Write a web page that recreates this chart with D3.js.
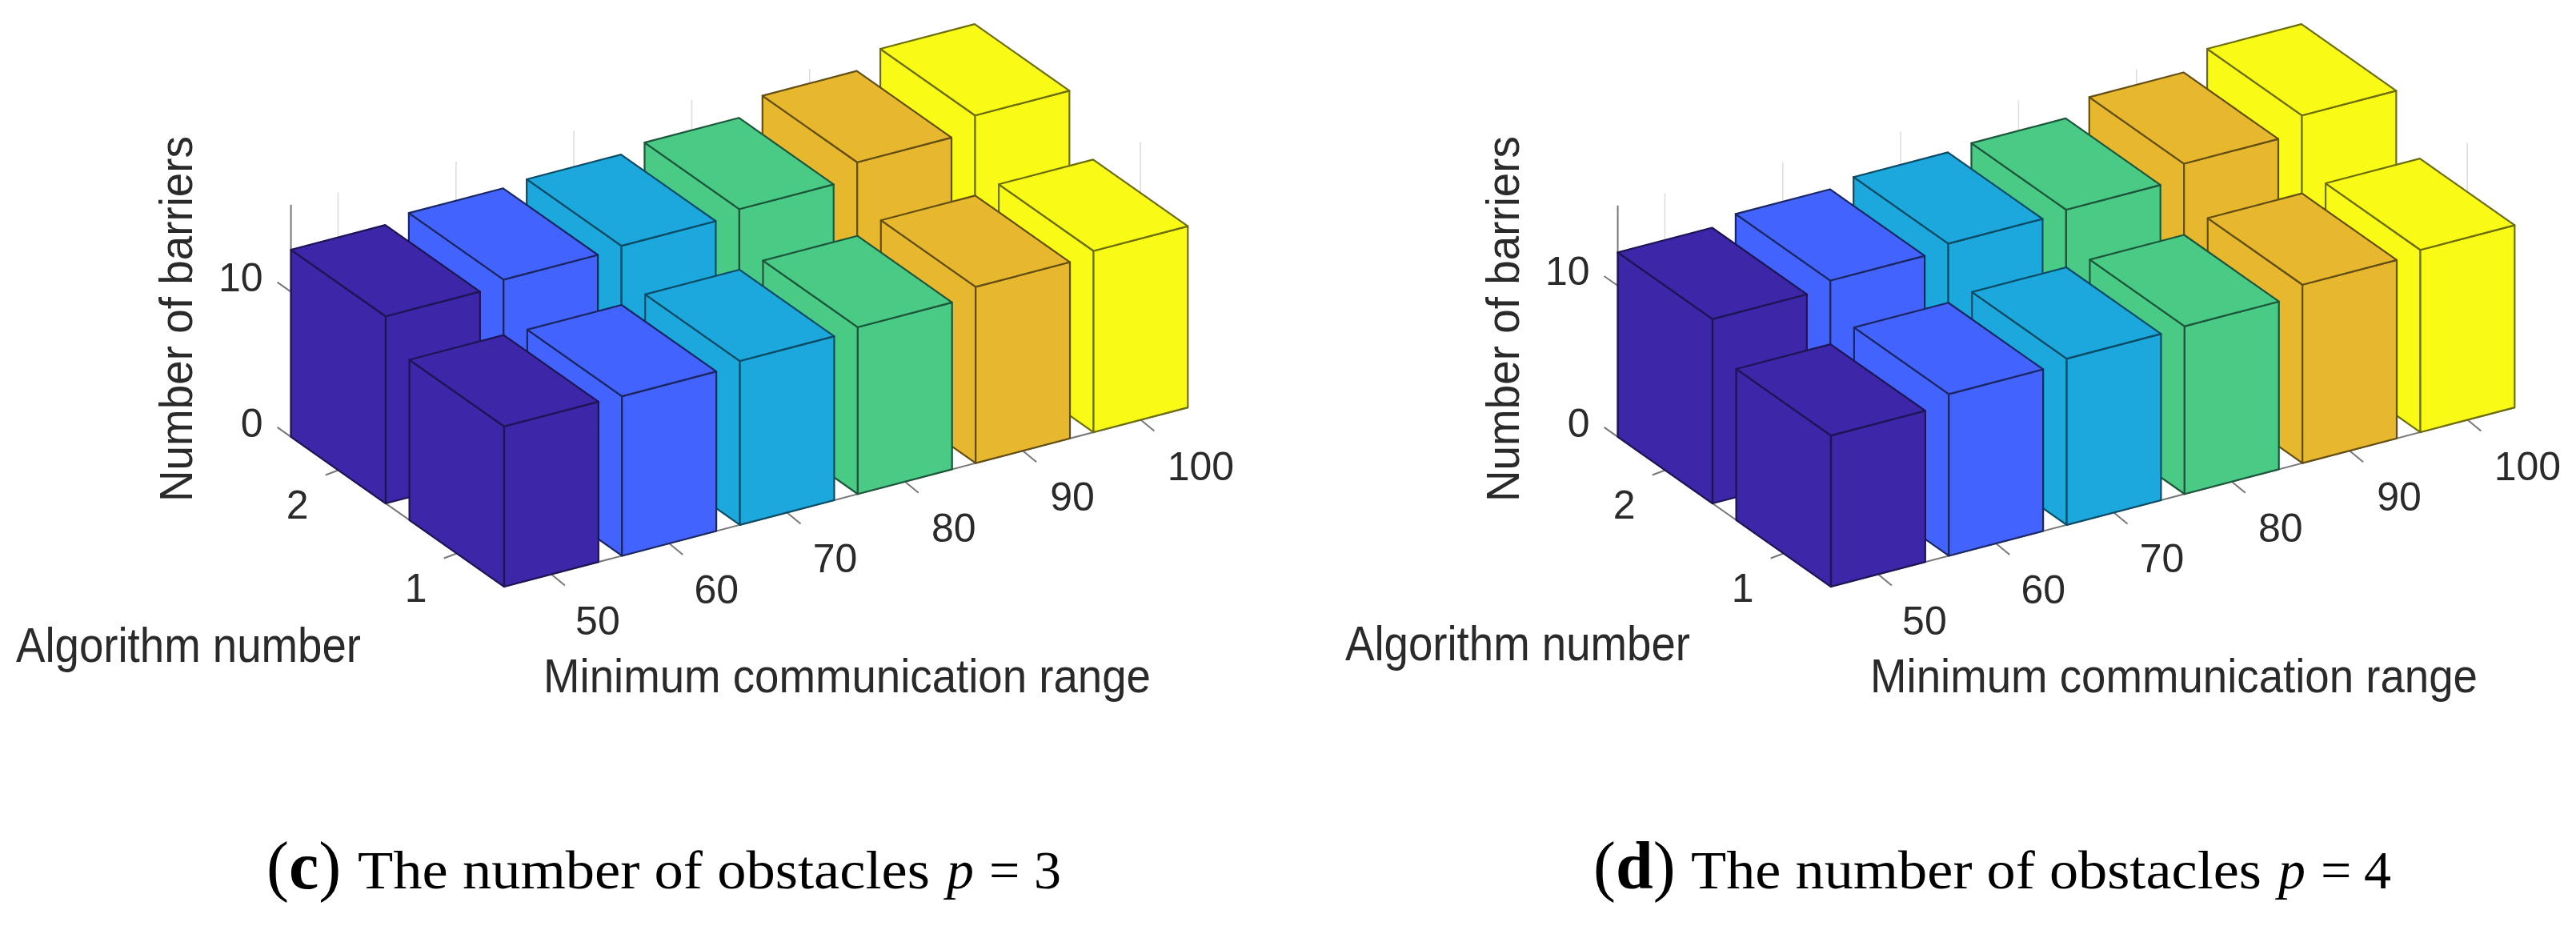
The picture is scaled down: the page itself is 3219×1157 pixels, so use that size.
<!DOCTYPE html>
<html>
<head>
<meta charset="utf-8">
<script src="https://cdn.jsdelivr.net/npm/d3@7/dist/d3.min.js"></script>
<style>html,body{margin:0;padding:0;background:#fff;overflow:hidden}svg{display:block}</style>
</head>
<body>
<svg id="chart" width="3219" height="1157"></svg>
<script>
// ---- data ----
const rangeCategories = [50, 60, 70, 80, 90, 100];
const algorithmNumbers = [1, 2];
const zTickValues = [0, 10];
const barColors = ["#3c26a8", "#4364fd", "#1aa7dd", "#48cb86", "#e7b72d", "#f9fb15"];

const panelCAlg1 = [11.05, 11.0, 11.3, 11.5, 12.15, 12.5];
const panelCAlg2 = [12.9, 13.3, 13.5, 13.9, 15.0, 16.1];
const panelDAlg1 = [10.0, 10.7, 11.0, 11.1, 11.8, 12.06];
const panelDAlg2 = [12.2, 12.7, 13.1, 13.3, 14.3, 15.45];

const panelCCaption = {letter: "c", tail: "3"};
const panelDCaption = {letter: "d", tail: "4"};
const captionWords = "The number of obstacles";
const zAxisTitle = "Number of barriers";
const yAxisTitle = "Algorithm number";
const xAxisTitle = "Minimum communication range";

// ---- drawing ----
const svg = d3.select("#chart");
const defs = svg.append("defs");
defs.append("filter").attr("id", "soft").attr("x", "-2%").attr("y", "-2%").attr("width", "104%").attr("height", "104%")
  .append("feGaussianBlur").attr("stdDeviation", 0.7);

const sans = "'Liberation Sans', Arial, sans-serif";
const serif = "'Liberation Serif', 'Times New Roman', serif";
const textInk = "#2b2b2b";
const line = d3.line();

// edge colour: the fill pulled toward black, less so on the dark bars
const edgeColor = c => {
  const l = d3.hsl(c).l;
  return d3.interpolateRgb(c, "#000")(0.3 + 0.5 * l);
};

function drawPanel(p) {
  const root = svg.append("g").attr("transform", `translate(${p.shift},0)`);
  const g = root.append("g").attr("filter", "url(#soft)");

  // oblique 3-D projection, built from linear scales
  const xToDx = d3.scaleLinear().domain([50, 100]).range([0, 736.5]);
  const xToDy = d3.scaleLinear().domain([50, 100]).range([0, -193]);
  const yToDx = d3.scaleLinear().domain([1, 2]).range([0, -148]);
  const yToDy = d3.scaleLinear().domain([1, 2]).range([0, -104]);
  const zToDy = d3.scaleLinear().domain([0, p.zTop]).range([0, -p.zPixels]);
  const anchorX = 629.7, anchorY = p.anchorY;
  const project = (x, y, z) => [
    anchorX + xToDx(x) + yToDx(y),
    anchorY + xToDy(x) + yToDy(y) + zToDy(z)
  ];

  const hx = 4, hy = 0.4;                     // half bar footprint in data units
  const xMin = 46, xMax = 104, yMin = 0.6, yMax = 2.4;

  // faint grid on the back walls
  const grid = [];
  rangeCategories.forEach(x => grid.push([project(x, yMax, 0), project(x, yMax, p.zTop)]));
  algorithmNumbers.forEach(y => grid.push([project(xMax, y, 0), project(xMax, y, p.zTop)]));
  g.append("g").selectAll("path").data(grid).join("path")
    .attr("d", d => line(d)).attr("stroke", "#dedede").attr("stroke-width", 1.6).attr("fill", "none");

  // axis lines
  const axisLines = [
    [project(xMin, yMax, 0), project(xMin, yMax, p.zTop)],
    [project(xMin, yMax, 0), project(xMin, yMin, 0)],
    [project(xMin, yMin, 0), project(xMax, yMin, 0)]
  ];
  g.append("g").selectAll("path").data(axisLines).join("path")
    .attr("d", d => line(d)).attr("stroke", "#777").attr("stroke-width", 2).attr("fill", "none");

  // ticks
  const tickLines = [];
  rangeCategories.forEach(x => { const a = project(x, yMin, 0); tickLines.push([a, [a[0] + 17, a[1] + 14]]); });
  algorithmNumbers.forEach(y => { const a = project(xMin, y, 0); tickLines.push([a, [a[0] - 16, a[1] + 6]]); });
  zTickValues.forEach(z => { const a = project(xMin, yMax, z); tickLines.push([a, [a[0] - 17, a[1] - 12]]); });
  g.append("g").selectAll("path").data(tickLines).join("path")
    .attr("d", d => line(d)).attr("stroke", "#777").attr("stroke-width", 2).attr("fill", "none");

  // bars, painted from the far corner forward
  const bars = [];
  [[2, p.alg2], [1, p.alg1]].forEach(([y, values]) => {
    for (let i = rangeCategories.length - 1; i >= 0; i--) {
      bars.push({x: rangeCategories[i], y, z: values[i], color: barColors[i]});
    }
  });
  const barG = g.append("g").selectAll("g").data(bars).join("g");
  const faces = d => {
    const x0 = d.x - hx, x1 = d.x + hx, y0 = d.y - hy, y1 = d.y + hy, z = d.z;
    return [
      [project(x0, y1, 0), project(x0, y0, 0), project(x0, y0, z), project(x0, y1, z)],
      [project(x0, y0, 0), project(x1, y0, 0), project(x1, y0, z), project(x0, y0, z)],
      [project(x0, y1, z), project(x0, y0, z), project(x1, y0, z), project(x1, y1, z)]
    ];
  };
  barG.selectAll("path").data(d => faces(d).map(f => ({f, color: d.color}))).join("path")
    .attr("d", d => line(d.f) + "Z")
    .attr("fill", d => d.color)
    .attr("stroke", d => edgeColor(d.color))
    .attr("stroke-width", 2.2)
    .attr("stroke-linejoin", "round");

  // tick labels
  const t = root.append("g").attr("font-family", sans).attr("fill", textInk).attr("font-size", 50).attr("filter", "url(#soft)");
  rangeCategories.forEach((x, i) => {
    const a = project(x, yMin, 0);
    const nudge = i + (x >= 100 ? 12 : 0);
    t.append("text").attr("x", a[0] + 58 + nudge).attr("y", a[1] + 75).attr("text-anchor", "middle").text(x);
  });
  algorithmNumbers.forEach(y => {
    const a = project(xMin, y, 0);
    t.append("text").attr("x", a[0] - 51).attr("y", a[1] + 61).attr("text-anchor", "middle").text(y);
  });
  zTickValues.forEach(z => {
    const a = project(xMin, yMax, z);
    t.append("text").attr("x", a[0] - 35).attr("y", a[1] + (z === 0 ? 0 : -1)).attr("text-anchor", "end").text(z);
  });

  // axis titles (the reference's type is slightly stretched)
  const titles = root.append("g").attr("font-family", sans).attr("fill", textInk).attr("font-size", 54).attr("filter", "url(#soft)");
  titles.append("text").attr("transform", "translate(240,627) rotate(-90) scale(1,1.05)")
    .attr("textLength", 457).attr("lengthAdjust", "spacingAndGlyphs").text(zAxisTitle);
  titles.append("text").attr("transform", `translate(${20 + p.algNudge},${827 - p.capNudge}) scale(1,1.13)`)
    .attr("textLength", 431).attr("lengthAdjust", "spacingAndGlyphs").text(yAxisTitle);
  titles.append("text").attr("transform", "translate(679,865) scale(1,1.1)")
    .attr("textLength", 759).attr("lengthAdjust", "spacingAndGlyphs").text(xAxisTitle);
}

drawPanel({shift: 0, alg1: panelCAlg1, alg2: panelCAlg2, zTop: 16, zPixels: 290, anchorY: 676, algNudge: 0, capNudge: 0});
drawPanel({shift: 1658, alg1: panelDAlg1, alg2: panelDAlg2, zTop: 15.3, zPixels: 289, anchorY: 676, algNudge: 3, capNudge: 2});

// captions
function caption(c, o) {
  const g = svg.append("g").attr("font-family", serif).attr("fill", "#000");
  const label = g.append("text").attr("x", o.parenX).attr("y", 1110).attr("font-size", 84);
  label.append("tspan").text("(");
  label.append("tspan").attr("font-weight", "bold").text(c.letter);
  label.append("tspan").text(")");
  g.append("text").attr("x", o.wordsX).attr("y", 1110).attr("font-size", 68)
    .attr("textLength", o.wordsW).attr("lengthAdjust", "spacingAndGlyphs").text(captionWords);
  g.append("text").attr("x", o.pX).attr("y", 1110).attr("font-size", 68).attr("font-style", "italic").text("p");
  g.append("text").attr("x", o.eqX).attr("y", 1110).attr("font-size", 68).text("=");
  g.append("text").attr("x", o.numX).attr("y", 1110).attr("font-size", 68).text(c.tail);
}
caption(panelCCaption, {parenX: 333, wordsX: 447, wordsW: 715, pX: 1183, eqX: 1236, numX: 1292});
caption(panelDCaption, {parenX: 1991, wordsX: 2113, wordsW: 713, pX: 2847, eqX: 2900, numX: 2954});
</script>
</body>
</html>
